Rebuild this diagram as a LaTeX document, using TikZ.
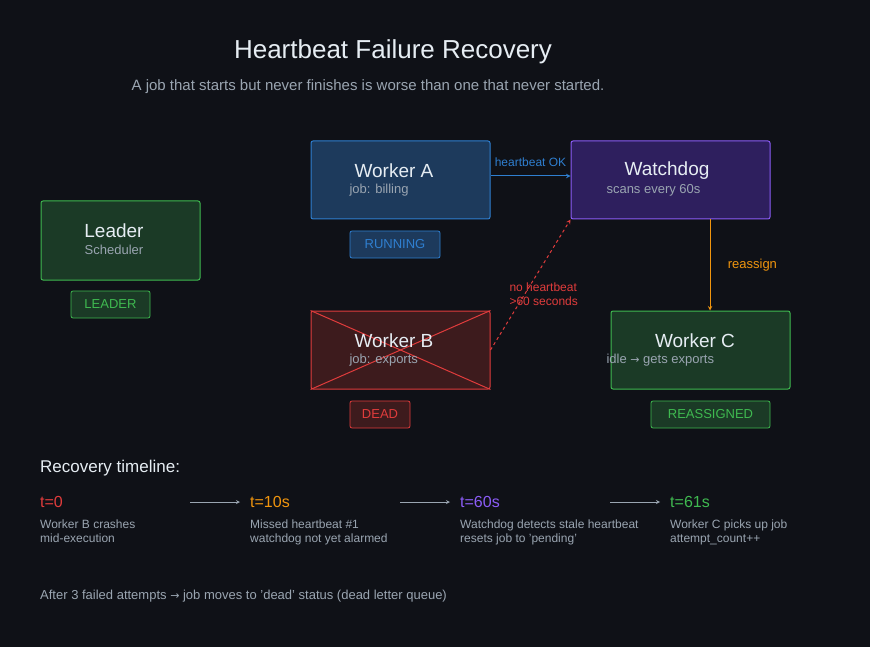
\documentclass[tikz,border=0pt]{standalone}
\usepackage{fontspec}
\setmainfont{Liberation Sans}
\newfontfamily\symfont{DejaVu Sans}
\usetikzlibrary{positioning}
\definecolor{bg}{HTML}{0F1117}
\definecolor{txt}{HTML}{E6EDF3}
\definecolor{sub}{HTML}{9AA5B1}
\definecolor{grn}{HTML}{3FB950}
\definecolor{grnf}{HTML}{1B3A26}
\definecolor{blu}{HTML}{2F7FD0}
\definecolor{bluf}{HTML}{1D3A5C}
\definecolor{pur}{HTML}{8B5CF6}
\definecolor{purf}{HTML}{2E1F5E}
\definecolor{rd}{HTML}{E03C3C}
\definecolor{rdf}{HTML}{3D1B1D}
\definecolor{org}{HTML}{F0950E}
\begin{document}
\begin{tikzpicture}[x=1pt,y=-1pt,
  card/.style={draw, line width=1pt, rounded corners=2pt, minimum width=179pt, minimum height=78pt, inner sep=0pt},
  badge/.style={draw, line width=0.8pt, rounded corners=2pt, minimum height=27pt, inner sep=0pt, font=\fontsize{13}{13}\selectfont},
  head/.style={text=txt, font=\fontsize{19}{19}\selectfont},
  info/.style={text=sub, font=\fontsize{13}{13}\selectfont, anchor=west},
  tick/.style={font=\fontsize{16}{16}\selectfont, anchor=west},
  note/.style={text=sub, font=\fontsize{12}{14}\selectfont, anchor=north west, align=left, inner sep=0pt},
  link/.style={line width=1pt, -stealth},
]
\fill[bg] (0,0) rectangle (870,647);
\useasboundingbox (0,0) rectangle (870,647);

\node[text=txt, font=\fontsize{26}{26}\selectfont] (title) at (393,52) {Heartbeat Failure Recovery};
\node[text=sub, font=\fontsize{15}{15}\selectfont] (subtitle) at (368,87) {A job that starts but never finishes is worse than one that never started.};

% cards
\node[card, draw=grn, fill=grnf, minimum width=159pt, minimum height=79pt] (leader) at (120.5,240.5) {};
\node[head] at (114,231) {Leader};
\node[text=sub, font=\fontsize{13}{13}\selectfont] at (114,250) {Scheduler};
\node[badge, draw=grn, fill=grnf, text=grn, minimum width=79pt] (leaderbadge) at (110.5,304.5) {LEADER};

\node[card, draw=blu, fill=bluf] (workerA) at (400.5,180) {};
\node[head] at (394,171) {Worker A};
\node[info] at (346,190) {job: billing};
\node[badge, draw=blu, fill=bluf, text=blu, minimum width=90pt] (runbadge) at (395,244.5) {RUNNING};

\node[card, draw=pur, fill=purf, minimum width=199pt] (watchdog) at (670.5,180) {};
\node[head] at (667,171) {Watchdog};
\node[info] at (603,190) {scans every 60s};

\node[card, draw=rd, fill=rdf] (workerB) at (400.5,350) {};
\draw[rd, line width=1pt] (workerB.north west) -- (workerB.south east);
\draw[rd, line width=1pt] (workerB.south west) -- (workerB.north east);
\node[head] at (394,341) {Worker B};
\node[info] at (346,360) {job: exports};
\node[badge, draw=rd, fill=rdf, text=rd, minimum width=60pt] (deadbadge) at (380,414.5) {DEAD};

\node[card, draw=grn, fill=grnf] (workerC) at (700.5,350) {};
\node[head] at (695,341) {Worker C};
\node[info] at (603,360) {idle {\symfont\fontsize{11}{11}\selectfont →} gets exports};
\node[badge, draw=grn, fill=grnf, text=grn, minimum width=119pt] (rebadge) at (710.5,414.5) {REASSIGNED};

% connectors
\draw[link, blu] (workerA.east |- 0,176) -- (watchdog.west |- 0,176) node[midway, above=6pt, font=\fontsize{12}{12}\selectfont] {heartbeat OK};
\draw[link, rd, dashed] (workerB.east) -- (watchdog.south west);
\node[text=rd, font=\fontsize{12}{14}\selectfont, align=left, anchor=west] (nohb) at (506,294) {no heartbeat\\>60 seconds};
\draw[link, org] (watchdog.south -| 710,0) -- (workerC.north -| 710,0) node[midway, right=14pt, font=\fontsize{13}{13}\selectfont] {reassign};

% timeline
\node[text=txt, font=\fontsize{17}{17}\selectfont, anchor=west, inner sep=0pt] (tltitle) at (40,468) {Recovery timeline:};
\node[tick, text=rd, inner sep=0pt] (t0) at (40,502) {t=0};
\node[tick, text=org, inner sep=0pt] (t10) at (250,502) {t=10s};
\node[tick, text=pur, inner sep=0pt] (t60) at (460,502) {t=60s};
\node[tick, text=grn, inner sep=0pt] (t61) at (670,502) {t=61s};
\foreach \a in {190,400,610}
  \draw[sub, line width=0.8pt, -stealth] (\a,502) -- (\a+50,502);
\node[note] (n0) at (40,520) {Worker B crashes\\mid-execution};
\node[note] (n10) at (250,520) {Missed heartbeat \#1\\watchdog not yet alarmed};
\node[note] (n60) at (460,520) {Watchdog detects stale heartbeat\\resets job to 'pending'};
\node[note] (n61) at (670,520) {Worker C picks up job\\attempt\_count++};

\node[text=sub, font=\fontsize{13}{13}\selectfont, anchor=west, inner sep=0pt] (footer) at (40,596) {After 3 failed attempts {\symfont\fontsize{11}{11}\selectfont →} job moves to 'dead' status (dead letter queue)};
\end{tikzpicture}
\end{document}
